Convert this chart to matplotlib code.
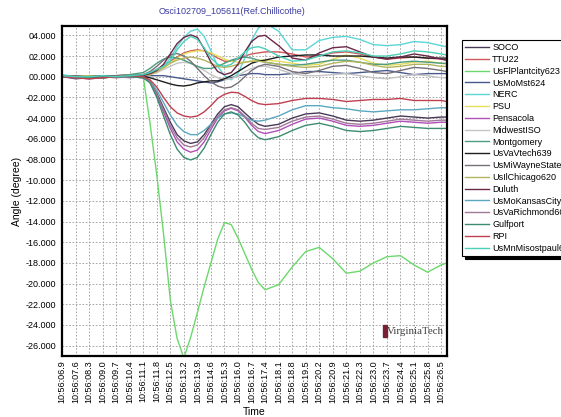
import matplotlib
matplotlib.use("Agg")
import matplotlib.pyplot as plt
from matplotlib.patches import Rectangle
from matplotlib.ticker import FuncFormatter, FixedLocator

plt.rcParams["font.family"] = ["Liberation Sans", "DejaVu Sans"]

# sample times (seconds after 10:56:00)
TIME = [6.9, 7.6, 8.3, 9.0, 9.7, 10.4, 11.1,
        11.45, 11.8, 12.15, 12.5, 12.85, 13.2, 13.55, 13.9, 14.25,
        14.6, 14.95, 15.3, 15.65, 16.0, 16.35, 16.7, 17.05, 17.4,
        18.1, 18.8, 19.5, 20.2, 20.9, 21.6, 22.3, 23.0, 23.7, 24.4,
        25.1, 25.8, 26.5, 26.8]

TICKS = [6.9 + 0.7 * k for k in range(29)]

SOCO = [0.1, -0.1, -0.2, -0.1, 0.0, 0.0, -0.1,
        -0.5, -1.6, -3.0, -4.4, -5.6, -6.2, -6.45, -6.3, -5.6, -4.6, -3.6, -2.9, -2.7, -2.9, -3.5, -4.1, -4.6, -4.8,
        -4.6, -4.0, -3.6, -3.5, -3.8, -4.2, -4.3, -4.2, -4.0, -3.8, -3.9, -4.0, -3.9, -3.9]
TTU22 = [0.0, 0.1, -0.1, 0.0, 0.1, 0.2, 0.2,
         0.4, 0.7, 1.1, 1.5, 1.9, 2.3, 2.5, 2.6, 2.5, 2.2, 1.8, 1.5, 1.5, 1.7, 2.0, 2.2, 2.3, 2.4,
         2.4, 2.2, 1.9, 2.0, 2.3, 2.4, 2.2, 1.9, 1.7, 1.8, 1.9, 1.8, 1.7, 1.6]
PLANTCITY = [0.1, -0.2, -0.1, -0.1, 0.0, 0.1, 0.0,
             -4.5, -9.5, -15.2, -21.6, -25.3, -27.2, -25.2, -22.8, -20.3, -18.0, -15.7, -14.1, -14.3, -15.6, -17.1, -18.6, -19.9, -20.6,
             -20.1, -18.4, -16.9, -16.5, -17.6, -19.0, -18.8, -18.0, -17.4, -17.3, -18.2, -18.9, -18.2, -18.0]
MOMST = [0.0, -0.1, 0.0, 0.1, 0.0, 0.0, 0.0,
         0.1, 0.1, 0.1, 0.0, -0.1, -0.2, -0.3, -0.4, -0.5, -0.6, -0.5, -0.3, -0.1, 0.1, 0.2, 0.3, 0.3, 0.2,
         0.2, 0.3, 0.5, 0.5, 0.4, 0.3, 0.4, 0.5, 0.6, 0.4, 0.2, 0.3, 0.3, 0.3]
NERC = [0.2, 0.0, -0.1, 0.0, 0.1, 0.1, 0.2,
        0.4, 0.6, 1.0, 1.8, 2.9, 3.8, 4.4, 4.6, 3.9, 2.5, 1.0, 0.1, -0.3, 0.3, 1.8, 3.5, 4.7, 5.2,
        4.4, 2.6, 2.6, 3.5, 3.8, 3.9, 3.6, 3.1, 3.0, 3.1, 3.4, 3.3, 3.0, 2.9]
PSU = [0.1, 0.0, 0.1, 0.0, -0.1, 0.1, 0.1,
       0.2, 0.4, 0.8, 1.3, 1.8, 2.2, 2.4, 2.5, 2.5, 2.3, 2.0, 1.7, 1.5, 1.4, 1.4, 1.5, 1.6, 1.6,
       1.5, 1.3, 1.1, 1.2, 1.7, 2.1, 1.8, 1.3, 1.1, 1.2, 1.4, 1.5, 1.3, 1.2]
PENSACOLA = [0.0, -0.2, -0.1, 0.0, -0.1, 0.0, -0.1,
             -0.5, -1.8, -3.4, -5.0, -6.3, -7.0, -7.3, -7.1, -6.3, -5.1, -4.0, -3.3, -3.05, -3.3, -3.9, -4.7, -5.3, -5.5,
             -5.2, -4.6, -4.1, -4.0, -4.3, -4.7, -4.8, -4.7, -4.5, -4.3, -4.4, -4.5, -4.4, -4.4]
MIDWEST = [0.1, 0.0, 0.0, -0.1, 0.0, 0.1, 0.1,
           0.2, 0.4, 0.7, 1.0, 1.3, 1.4, 1.3, 1.0, 0.6, 0.2, -0.1, -0.3, -0.2, 0.1, 0.5, 0.8, 1.0, 1.0,
           0.7, 0.3, 0.1, 0.1, 0.2, 0.3, 0.1, -0.1, -0.2, 0.0, 0.2, 0.1, -0.1, -0.1]
MONTGOMERY = [0.0, 0.1, 0.0, 0.1, 0.1, 0.2, 0.4,
              0.8, 1.3, 1.7, 1.9, 1.8, 1.6, 1.3, 1.0, 0.8, 0.8, 1.0, 1.3, 1.6, 1.8, 1.9, 1.8, 1.6, 1.4,
              1.2, 1.1, 1.2, 1.4, 1.6, 1.6, 1.4, 1.2, 1.2, 1.4, 1.5, 1.4, 1.3, 1.3]
VTECH = [0.0, -0.1, 0.0, -0.1, 0.0, 0.0, 0.0,
         -0.1, -0.3, -0.5, -0.7, -0.85, -0.9, -0.8, -0.6, -0.5, -0.4, -0.4, -0.2, 0.1, 0.5, 0.9, 1.3, 1.5, 1.6,
         1.9, 2.0, 2.1, 2.1, 2.0, 2.0, 2.0, 1.9, 1.8, 1.9, 1.9, 1.8, 1.8, 1.8]
WAYNE = [0.0, 0.1, 0.0, 0.0, 0.1, 0.1, 0.2,
         0.5, 1.0, 1.6, 2.1, 2.25, 2.0, 1.5, 0.8, 0.1, -0.5, -0.9, -1.1, -1.0, -0.6, 0.0, 0.6, 1.0, 1.2,
         1.0, 0.5, 0.3, 0.6, 1.0, 1.1, 0.8, 0.4, 0.3, 0.6, 0.9, 0.8, 0.6, 0.5]
CHICAGO = [0.0, 0.0, 0.1, 0.0, 0.0, 0.1, 0.1,
           0.2, 0.5, 0.9, 1.3, 1.6, 1.8, 1.9, 1.8, 1.6, 1.3, 1.0, 0.9, 1.0, 1.2, 1.4, 1.5, 1.5, 1.4,
           1.2, 1.0, 0.9, 1.0, 1.3, 1.5, 1.4, 1.1, 0.9, 1.0, 1.2, 1.2, 1.0, 1.0]
DULUTH = [0.0, -0.1, 0.0, 0.1, 0.0, 0.1, 0.1,
          0.3, 0.6, 1.2, 2.2, 3.2, 3.8, 4.05, 3.8, 2.7, 1.4, 0.5, 0.2, 0.4, 1.2, 2.4, 3.4, 3.9, 4.0,
          3.0, 1.8, 1.6, 2.3, 2.8, 2.9, 2.4, 1.9, 1.7, 1.9, 2.2, 2.0, 1.7, 1.6]
KANSAS = [0.0, -0.1, 0.0, -0.1, 0.0, 0.1, 0.0,
          -0.4, -1.3, -2.5, -3.7, -4.7, -5.3, -5.6, -5.6, -5.2, -4.6, -4.0, -3.6, -3.5, -3.6, -3.9, -4.2, -4.3, -4.2,
          -3.8, -3.2, -2.8, -2.8, -3.0, -3.1, -3.3, -3.4, -3.3, -3.2, -3.2, -3.1, -3.0, -3.0]
RICHMOND = [0.1, 0.0, -0.1, 0.0, 0.0, -0.1, 0.0,
            -0.5, -1.7, -3.2, -4.7, -5.9, -6.6, -6.8, -6.6, -5.9, -4.8, -3.8, -3.2, -3.0, -3.2, -3.8, -4.5, -5.0, -5.1,
            -4.9, -4.3, -3.9, -3.8, -4.1, -4.5, -4.6, -4.5, -4.3, -4.1, -4.2, -4.3, -4.2, -4.2]
GULFPORT = [0.0, -0.1, -0.1, 0.0, 0.0, 0.0, -0.1,
            -0.6, -2.0, -3.8, -5.6, -7.0, -7.8, -8.05, -7.8, -6.9, -5.6, -4.4, -3.6, -3.4, -3.7, -4.4, -5.3, -5.9, -6.1,
            -5.8, -5.2, -4.7, -4.5, -4.8, -5.2, -5.3, -5.2, -5.0, -4.8, -4.9, -5.0, -5.0, -5.0]
RPI = [0.0, -0.1, -0.2, -0.1, 0.0, 0.1, 0.0,
       -0.3, -1.0, -2.0, -2.9, -3.5, -3.8, -3.9, -3.8, -3.4, -2.8, -2.1, -1.7, -1.5, -1.55, -1.9, -2.3, -2.6, -2.7,
       -2.6, -2.3, -2.1, -2.1, -2.2, -2.4, -2.3, -2.2, -2.2, -2.1, -2.3, -2.3, -2.3, -2.4]
STPAUL = [0.1, 0.0, 0.0, 0.1, 0.0, 0.1, 0.2,
          0.4, 0.7, 1.0, 1.5, 2.6, 3.4, 3.9, 3.6, 2.8, 1.8, 1.2, 1.0, 1.2, 1.8, 2.4, 2.8, 2.9, 2.7,
          2.0, 1.5, 1.6, 2.0, 2.4, 2.5, 2.3, 2.0, 2.0, 2.2, 2.5, 2.4, 2.2, 2.1]

SERIES = [
    ("SOCO", SOCO, "#4a3a58"),
    ("TTU22", TTU22, "#d05858"),
    ("UsFlPlantcity623", PLANTCITY, "#6cd86c"),
    ("UsMoMst624", MOMST, "#485a8c"),
    ("NERC", NERC, "#5cd6d6"),
    ("PSU", PSU, "#e6dc5a"),
    ("Pensacola", PENSACOLA, "#b050b8"),
    ("MidwestISO", MIDWEST, "#c4c4c4"),
    ("Montgomery", MONTGOMERY, "#4c9c80"),
    ("UsVaVtech639", VTECH, "#1e1e1e"),
    ("UsMiWayneState", WAYNE, "#787078"),
    ("UsIlChicago620", CHICAGO, "#b4b460"),
    ("Duluth", DULUTH, "#6a2848"),
    ("UsMoKansasCity6", KANSAS, "#5aa8c0"),
    ("UsVaRichmond60", RICHMOND, "#a07898"),
    ("Gulfport", GULFPORT, "#3c8c70"),
    ("RPI", RPI, "#c04050"),
    ("UsMnMisostpaul6", STPAUL, "#4cd0b8"),
]

fig = plt.figure(figsize=(5.61, 4.17), dpi=100)
ax = fig.add_axes([0.1105, 0.1463, 0.6865, 0.7913])

for label, vals, color in SERIES:
    ax.plot(TIME, vals, color=color, lw=1.0, label=label)

ax.set_xlim(6.9, 26.81)
ax.set_ylim(-27.0, 4.9)

ax.xaxis.set_major_locator(FixedLocator(TICKS))
ax.xaxis.set_major_formatter(FuncFormatter(lambda v, p: f"10:56:{v:04.1f}"))
ax.set_yticks(list(range(4, -27, -2)))
ax.yaxis.set_major_formatter(FuncFormatter(
    lambda v, p: f"{v:06.3f}" if v >= 0 else f"{v:07.3f}"))
ax.tick_params(axis="x", labelrotation=90, labelsize=6.5, length=0, pad=3)
ax.tick_params(axis="y", labelsize=6.5, length=0, pad=4)

ax.grid(True, color="#9a9a9a", lw=0.6, linestyle=(0, (2, 2)))
for s in ax.spines.values():
    s.set_linewidth(1.6)
    s.set_color("black")

ax.set_xlabel("Time", fontsize=7.5, labelpad=3)
ax.set_ylabel("Angle (degree)", fontsize=7.5, labelpad=3)

fig.text(232 / 561, 1 - 12 / 417, "Osci102709_105611(Ref.Chillicothe)",
         ha="center", va="center", fontsize=6.5, color="#3a3aa0")

# VirginiaTech mark in the lower right of the plot
fig.patches.append(Rectangle((383 / 561, 1 - 337 / 417), 4 / 561, 12 / 417,
                             transform=fig.transFigure, color="#7a2035"))
fig.text(387 / 561, 1 - 331 / 417, "VirginiaTech", family="Liberation Serif",
         fontsize=7.8, color="#404040", ha="left", va="center")

leg = fig.legend(loc="upper left", bbox_to_anchor=(462 / 561, 1 - 40 / 417),
                 fontsize=6.5, handlelength=2.6, handletextpad=0.4,
                 labelspacing=0.31, borderpad=0.35, borderaxespad=0, fancybox=False,
                 shadow={"color": "black", "alpha": 1.0}, framealpha=1)
leg.get_frame().set_edgecolor("black")
leg.get_frame().set_linewidth(0.8)

fig.savefig("out.png", dpi=100)
